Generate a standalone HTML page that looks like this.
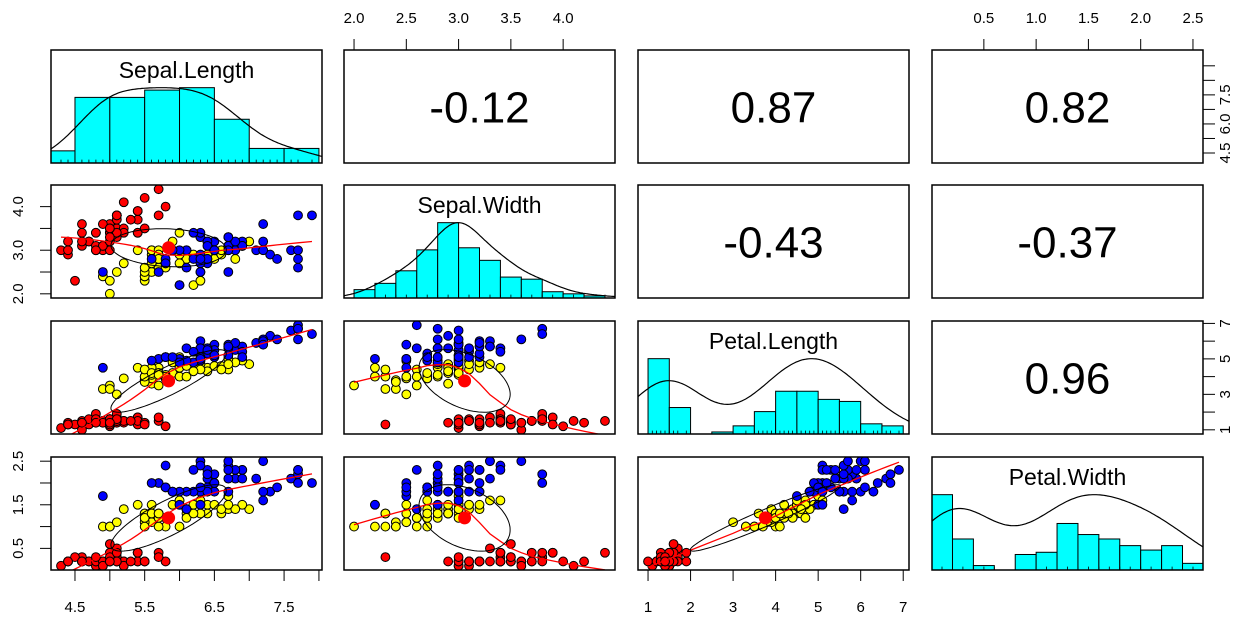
<!DOCTYPE html>
<html><head><meta charset="utf-8"><style>
html,body{margin:0;padding:0;background:#fff;}
svg{display:block;font-family:"Liberation Sans",Arial,sans-serif;}
</style></head><body>
<svg id="chart" width="1255" height="621" viewBox="0 0 1255 621"></svg>
<script>
const varNames = ["Sepal.Length","Sepal.Width","Petal.Length","Petal.Width"];
const speciesColors = ["#ff0000","#ffff00","#0000ff"];
const setosa = [[5.1,3.5,1.4,0.2],[4.9,3.0,1.4,0.2],[4.7,3.2,1.3,0.2],[4.6,3.1,1.5,0.2],[5.0,3.6,1.4,0.2],[5.4,3.9,1.7,0.4],[4.6,3.4,1.4,0.3],[5.0,3.4,1.5,0.2],[4.4,2.9,1.4,0.2],[4.9,3.1,1.5,0.1],[5.4,3.7,1.5,0.2],[4.8,3.4,1.6,0.2],[4.8,3.0,1.4,0.1],[4.3,3.0,1.1,0.1],[5.8,4.0,1.2,0.2],[5.7,4.4,1.5,0.4],[5.4,3.9,1.3,0.4],[5.1,3.5,1.4,0.3],[5.7,3.8,1.7,0.3],[5.1,3.8,1.5,0.3],[5.4,3.4,1.7,0.2],[5.1,3.7,1.5,0.4],[4.6,3.6,1.0,0.2],[5.1,3.3,1.7,0.5],[4.8,3.4,1.9,0.2],[5.0,3.0,1.6,0.2],[5.0,3.4,1.6,0.4],[5.2,3.5,1.5,0.2],[5.2,3.4,1.4,0.2],[4.7,3.2,1.6,0.2],[4.8,3.1,1.6,0.2],[5.4,3.4,1.5,0.4],[5.2,4.1,1.5,0.1],[5.5,4.2,1.4,0.2],[4.9,3.1,1.5,0.2],[5.0,3.2,1.2,0.2],[5.5,3.5,1.3,0.2],[4.9,3.6,1.4,0.1],[4.4,3.0,1.3,0.2],[5.1,3.4,1.5,0.2],[5.0,3.5,1.3,0.3],[4.5,2.3,1.3,0.3],[4.4,3.2,1.3,0.2],[5.0,3.5,1.6,0.6],[5.1,3.8,1.9,0.4],[4.8,3.0,1.4,0.3],[5.1,3.8,1.6,0.2],[4.6,3.2,1.4,0.2],[5.3,3.7,1.5,0.2],[5.0,3.3,1.4,0.2]];
const versicolor = [[7.0,3.2,4.7,1.4],[6.4,3.2,4.5,1.5],[6.9,3.1,4.9,1.5],[5.5,2.3,4.0,1.3],[6.5,2.8,4.6,1.5],[5.7,2.8,4.5,1.3],[6.3,3.3,4.7,1.6],[4.9,2.4,3.3,1.0],[6.6,2.9,4.6,1.3],[5.2,2.7,3.9,1.4],[5.0,2.0,3.5,1.0],[5.9,3.0,4.2,1.5],[6.0,2.2,4.0,1.0],[6.1,2.9,4.7,1.4],[5.6,2.9,3.6,1.3],[6.7,3.1,4.4,1.4],[5.6,3.0,4.5,1.5],[5.8,2.7,4.1,1.0],[6.2,2.2,4.5,1.5],[5.6,2.5,3.9,1.1],[5.9,3.2,4.8,1.8],[6.1,2.8,4.0,1.3],[6.3,2.5,4.9,1.5],[6.1,2.8,4.7,1.2],[6.4,2.9,4.3,1.3],[6.6,3.0,4.4,1.4],[6.8,2.8,4.8,1.4],[6.7,3.0,5.0,1.7],[6.0,2.9,4.5,1.5],[5.7,2.6,3.5,1.0],[5.5,2.4,3.8,1.1],[5.5,2.4,3.7,1.0],[5.8,2.7,3.9,1.2],[6.0,2.7,5.1,1.6],[5.4,3.0,4.5,1.5],[6.0,3.4,4.5,1.6],[6.7,3.1,4.7,1.5],[6.3,2.3,4.4,1.3],[5.6,3.0,4.1,1.3],[5.5,2.5,4.0,1.3],[5.5,2.6,4.4,1.2],[6.1,3.0,4.6,1.4],[5.8,2.6,4.0,1.2],[5.0,2.3,3.3,1.0],[5.6,2.7,4.2,1.3],[5.7,3.0,4.2,1.2],[5.7,2.9,4.2,1.3],[6.2,2.9,4.3,1.3],[5.1,2.5,3.0,1.1],[5.7,2.8,4.1,1.3]];
const virginica = [[6.3,3.3,6.0,2.5],[5.8,2.7,5.1,1.9],[7.1,3.0,5.9,2.1],[6.3,2.9,5.6,1.8],[6.5,3.0,5.8,2.2],[7.6,3.0,6.6,2.1],[4.9,2.5,4.5,1.7],[7.3,2.9,6.3,1.8],[6.7,2.5,5.8,1.8],[7.2,3.6,6.1,2.5],[6.5,3.2,5.1,2.0],[6.4,2.7,5.3,1.9],[6.8,3.0,5.5,2.1],[5.7,2.5,5.0,2.0],[5.8,2.8,5.1,2.4],[6.4,3.2,5.3,2.3],[6.5,3.0,5.5,1.8],[7.7,3.8,6.7,2.2],[7.7,2.6,6.9,2.3],[6.0,2.2,5.0,1.5],[6.9,3.2,5.7,2.3],[5.6,2.8,4.9,2.0],[7.7,2.8,6.7,2.0],[6.3,2.7,4.9,1.8],[6.7,3.3,5.7,2.1],[7.2,3.2,6.0,1.8],[6.2,2.8,4.8,1.8],[6.1,3.0,4.9,1.8],[6.4,2.8,5.6,2.1],[7.2,3.0,5.8,1.6],[7.4,2.8,6.1,1.9],[7.9,3.8,6.4,2.0],[6.4,2.8,5.6,2.2],[6.3,2.8,5.1,1.5],[6.1,2.6,5.6,1.4],[7.7,3.0,6.1,2.3],[6.3,3.4,5.6,2.4],[6.4,3.1,5.5,1.8],[6.0,3.0,4.8,1.8],[6.9,3.1,5.4,2.1],[6.7,3.1,5.6,2.4],[6.9,3.1,5.1,2.3],[5.8,2.7,5.1,1.9],[6.8,3.2,5.9,2.3],[6.7,3.3,5.7,2.5],[6.7,3.0,5.2,2.3],[6.3,2.5,5.0,1.9],[6.5,3.0,5.2,2.0],[6.2,3.4,5.4,2.3],[5.9,3.0,5.1,1.8]];
const histBreakStep = [0.5,0.2,0.5,0.2];
const topAxisTicks = {1:[2.0,2.5,3.0,3.5,4.0],3:[0.5,1.0,1.5,2.0,2.5]};
const topAxisLabels = {1:["2.0","2.5","3.0","3.5","4.0"],3:["0.5","1.0","1.5","2.0","2.5"]};
const bottomAxisTicks = {0:[4.5,5.0,5.5,6.0,6.5,7.0,7.5,8.0],2:[1,2,3,4,5,6,7]};
const bottomAxisLabels = {0:["4.5","","5.5","","6.5","","7.5",""],2:["1","2","3","4","5","6","7"]};
const leftAxisTicks = {1:[2.0,2.5,3.0,3.5,4.0],3:[0.5,1.0,1.5,2.0,2.5]};
const leftAxisLabels = {1:["2.0","","3.0","","4.0"],3:["0.5","","1.5","","2.5"]};
const rightAxisTicks = {0:[4.5,5.0,5.5,6.0,6.5,7.0,7.5],2:[1,2,3,4,5,6,7]};
const rightAxisLabels = {0:["4.5","","6.0","","7.5","",""],2:["1","","3","","5","","7"]};

const NS="http://www.w3.org/2000/svg";
const svg=document.getElementById('chart');
function mk(tag,attrs,parent){const e=document.createElementNS(NS,tag);for(const k in attrs)e.setAttribute(k,attrs[k]);(parent||svg).appendChild(e);return e;}
const colX=[51,344,638,932], rowY=[50,185,321,457], PW=271, PH=113;
const all=[], grp=[];
[setosa,versicolor,virginica].forEach((g,gi)=>g.forEach(r=>{all.push(r);grp.push(gi);}));
const cols=[0,1,2,3].map(k=>all.map(r=>r[k]));
const ranges=cols.map(c=>{const mn=Math.min(...c),mx=Math.max(...c),e=(mx-mn)*0.04;return [mn-e,mx+e];});
function sx(k,i,v){const r=ranges[k];return colX[i]+(v-r[0])/(r[1]-r[0])*PW;}
function sy(k,j,v){const r=ranges[k];return rowY[j]+PH-(v-r[0])/(r[1]-r[0])*PH;}
const mean=a=>a.reduce((s,v)=>s+v,0)/a.length;
const sd=a=>{const m=mean(a);return Math.sqrt(a.reduce((s,v)=>s+(v-m)*(v-m),0)/(a.length-1));};
function cor(a,b){const ma=mean(a),mb=mean(b);let s=0,sa=0,sb=0;for(let i=0;i<a.length;i++){s+=(a[i]-ma)*(b[i]-mb);sa+=(a[i]-ma)**2;sb+=(b[i]-mb)**2;}return s/Math.sqrt(sa*sb);}
function lowess(x,y,f,iter){
  const n=x.length;const idx=[...Array(n).keys()].sort((a,b)=>x[a]-x[b]);
  const X=idx.map(i=>x[i]),Y=idx.map(i=>y[i]);const ns=Math.max(2,Math.min(n,Math.round(f*n)));
  let rw=new Array(n).fill(1),fit=new Array(n);
  for(let it=0;it<=iter;it++){
    for(let i=0;i<n;i++){
      const d=X.map(v=>Math.abs(v-X[i])).sort((a,b)=>a-b);const h=Math.max(d[ns-1],1e-9);
      let sw=0,swx=0,swy=0,swxx=0,swxy=0;
      for(let k=0;k<n;k++){const r=Math.abs(X[k]-X[i]);let w=0;if(r<=0.999*h){w=r<=0.001*h?1:Math.pow(1-Math.pow(r/h,3),3);}w*=rw[k];
        sw+=w;swx+=w*X[k];swy+=w*Y[k];swxx+=w*X[k]*X[k];swxy+=w*X[k]*Y[k];}
      const mx=swx/sw,my=swy/sw,vx=swxx/sw-mx*mx;
      fit[i]=vx>1e-7*(h*h)?my+(swxy/sw-mx*my)/vx*(X[i]-mx):my;
    }
    if(it===iter)break;
    const res=Y.map((v,i)=>Math.abs(v-fit[i]));const s=res.slice().sort((a,b)=>a-b);const m6=6*((s[Math.floor((n-1)/2)]+s[Math.ceil((n-1)/2)])/2);
    rw=res.map(r=>{const u=r/m6;return u<1?Math.pow(1-u*u,2):0;});
  }
  return X.map((v,i)=>[v,fit[i]]);
}
function density(x){
  const n=x.length,s=x.slice().sort((a,b)=>a-b);const q=p=>{const h=(n-1)*p,l=Math.floor(h);return s[l]+(h-l)*(s[Math.min(l+1,n-1)]-s[l]);};
  const bw=1.2*1.06*Math.min(sd(x),(q(.75)-q(.25))/1.34)*Math.pow(n,-0.2);
  const lo=s[0]-3*bw,hi=s[n-1]+3*bw,pts=[];
  for(let i=0;i<256;i++){const t=lo+(hi-lo)*i/255;let d=0;for(const v of x)d+=Math.exp(-0.5*((t-v)/bw)**2);pts.push([t,d]);}
  const m=Math.max(...pts.map(p=>p[1]));return pts.map(p=>[p[0],p[1]/m]);
}
const defs=mk('defs',{});
for(let i=0;i<4;i++)for(let j=0;j<4;j++){const cp=mk('clipPath',{id:`c${i}${j}`},defs);mk('rect',{x:colX[i],y:rowY[j],width:PW,height:PH},cp);}

for(let j=0;j<4;j++)for(let i=0;i<4;i++){
  const g=mk('g',{});
  
  
  const cg=mk('g',{'clip-path':`url(#c${i}${j})`},g);
  if(i===j){
    const k=i,x=cols[k],st=histBreakStep[k];
    const b0=Math.floor(Math.min(...x)/st+1e-9)*st,b1=Math.ceil(Math.max(...x)/st-1e-9)*st;
    const nb=Math.round((b1-b0)/st),counts=new Array(nb).fill(0);
    x.forEach(v=>{let b=Math.ceil((v-b0)/st-1e-9)-1;if(b<0)b=0;counts[b]++;});
    const mc=Math.max(...counts);const hy=v=>rowY[j]+PH-v/1.5*PH;
    counts.forEach((c,b)=>{const r=mk('rect',{x:sx(k,i,b0+b*st),y:hy(c/mc),width:sx(k,i,b0+(b+1)*st)-sx(k,i,b0+b*st),height:PH-(hy(c/mc)-rowY[j]),fill:'#00ffff',stroke:'#000','stroke-width':1},cg);
      
      });
    let rug='';x.forEach(v=>{const px=sx(k,i,v).toFixed(1);rug+=`M${px},${rowY[j]+PH}v-3.4`;});
    mk('path',{d:rug,stroke:'#000','stroke-width':0.8},cg);
    const dd=density(x);const dl=mk('path',{d:'M'+dd.map(p=>sx(k,i,p[0]).toFixed(1)+','+hy(p[1]).toFixed(1)).join('L'),fill:'none',stroke:'#000','stroke-width':1.2},cg);
    
    
    const t=mk('text',{x:colX[i]+PW/2,y:rowY[j]+28,'text-anchor':'middle','font-size':23,fill:'#000'},g);t.textContent=varNames[k];
    
    
  } else if(i>j){
    const r=cor(cols[i],cols[j]);const t=mk('text',{x:colX[i]+PW/2,y:rowY[j]+PH/2+16,'text-anchor':'middle','font-size':44,fill:'#000'},g);
    t.textContent=r.toFixed(2);
    
    
  } else {
    const xk=i,yk=j,xs=cols[xk],ys=cols[yk];
    all.forEach((row,n)=>{const c=mk('circle',{cx:sx(xk,i,row[xk]),cy:sy(yk,j,row[yk]),r:4.4,fill:speciesColors[grp[n]],stroke:'#000','stroke-width':1},cg);
      
      });
    const lw=lowess(xs,ys,2/3,3);
    const ll=mk('path',{d:'M'+lw.map(p=>sx(xk,i,p[0]).toFixed(1)+','+sy(yk,j,p[1]).toFixed(1)).join('L'),fill:'none',stroke:'#ff0000','stroke-width':1.3},cg);
    
    
    const mx=mean(xs),my=mean(ys),sdx=sd(xs),sdy=sd(ys),rr=cor(xs,ys),d=Math.acos(rr);
    let ep=[];for(let a=0;a<=100;a++){const th=a/100*2*Math.PI;ep.push(sx(xk,i,mx+sdx*Math.cos(th+d/2)).toFixed(1)+','+sy(yk,j,my+sdy*Math.cos(th-d/2)).toFixed(1));}
    const el=mk('path',{d:'M'+ep.join('L'),fill:'none',stroke:'#000','stroke-width':1},cg);
    
    
    const md=mk('circle',{cx:sx(xk,i,mx),cy:sy(yk,j,my),r:6.5,fill:'#ff0000'},cg);
    
    
  }
  mk('rect',{x:colX[i],y:rowY[j],width:PW,height:PH,fill:'none',stroke:'#000','stroke-width':1.5},g);
}
function axis(name,ticks,labels,fn){
  const g=mk('g',{});
  
  
  ticks.forEach((v,n)=>fn(g,v,labels[n]));
}
for(const i in topAxisTicks){const k=+i;axis('top-axis-'+varNames[k].toLowerCase().replace('.','-'),topAxisTicks[i],topAxisLabels[i],(g,v,l)=>{const x=sx(k,k,v);mk('line',{x1:x,x2:x,y1:rowY[0],y2:rowY[0]-11,stroke:'#000'},g);if(l){const t=mk('text',{x:x,y:23,'text-anchor':'middle','font-size':15},g);t.textContent=l;}});}
for(const i in bottomAxisTicks){const k=+i;axis('bottom-axis-'+varNames[k].toLowerCase().replace('.','-'),bottomAxisTicks[i],bottomAxisLabels[i],(g,v,l)=>{const x=sx(k,k,v);if(x>colX[k]+PW+1)return;mk('line',{x1:x,x2:x,y1:rowY[3]+PH,y2:rowY[3]+PH+11,stroke:'#000'},g);if(l){const t=mk('text',{x:x,y:612,'text-anchor':'middle','font-size':15},g);t.textContent=l;}});}
for(const j in leftAxisTicks){const k=+j;axis('left-axis-'+varNames[k].toLowerCase().replace('.','-'),leftAxisTicks[j],leftAxisLabels[j],(g,v,l)=>{const y=sy(k,k,v);mk('line',{x1:colX[0],x2:colX[0]-11,y1:y,y2:y,stroke:'#000'},g);if(l){const t=mk('text',{x:23,y:y,'text-anchor':'middle','font-size':15,transform:`rotate(-90 23 ${y})`},g);t.textContent=l;}});}
for(const j in rightAxisTicks){const k=+j;axis('right-axis-'+varNames[k].toLowerCase().replace('.','-'),rightAxisTicks[j],rightAxisLabels[j],(g,v,l)=>{const y=sy(k,k,v);if(y<rowY[k]-1)return;const x0=colX[3]+PW;mk('line',{x1:x0,x2:x0+12,y1:y,y2:y,stroke:'#000'},g);if(l){const t=mk('text',{x:1230,y:y,'text-anchor':'middle','font-size':15,transform:`rotate(-90 1230 ${y})`},g);t.textContent=l;}});}
</script>
</body></html>
